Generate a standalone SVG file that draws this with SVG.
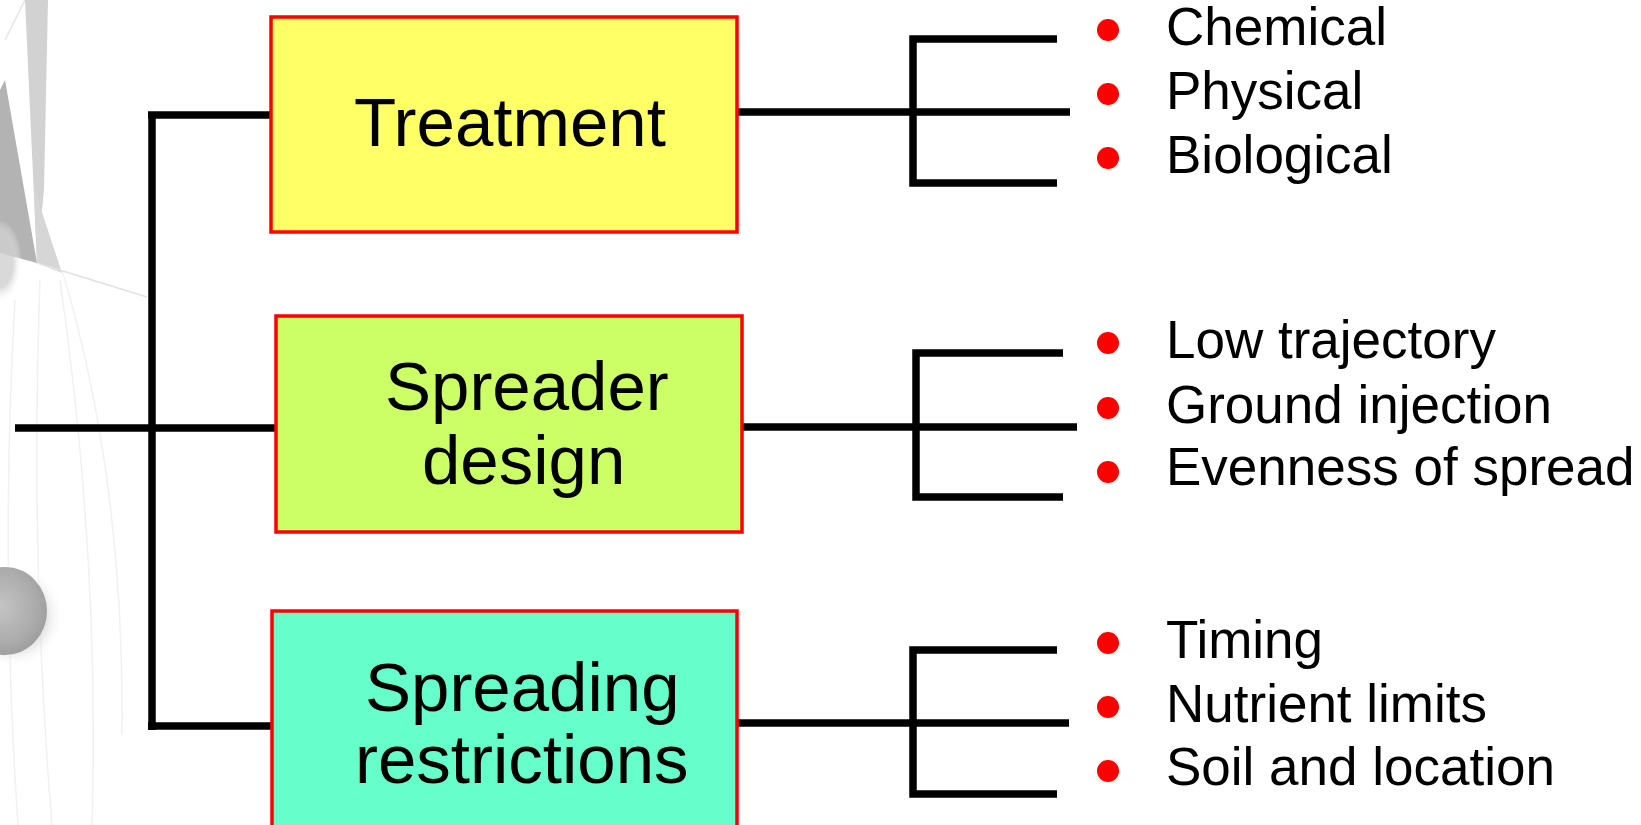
<svg xmlns="http://www.w3.org/2000/svg" width="1641" height="825" viewBox="0 0 1641 825">
  <defs>
    <radialGradient id="sph" cx="0.45" cy="0.45" r="0.6">
      <stop offset="0" stop-color="#c4c4c4"/>
      <stop offset="0.7" stop-color="#ababab"/>
      <stop offset="1" stop-color="#9c9c9c"/>
    </radialGradient>
    <radialGradient id="shadow" cx="0.5" cy="0.5" r="0.5">
      <stop offset="0.6" stop-color="#d0d0d0" stop-opacity="0.8"/>
      <stop offset="1" stop-color="#ffffff" stop-opacity="0"/>
    </radialGradient>
  </defs>
  <style>
    .box { stroke: #ff0000; stroke-width: 3.5; }
    .lbl { font-family: "Liberation Sans", Arial, sans-serif; font-size: 69px; fill: #000; }
    .item { font-family: "Liberation Sans", Arial, sans-serif; font-size: 53px; fill: #000; }
    .bullet { fill: #ff0000; }
    .conn { fill: none; stroke: #000; stroke-width: 7.5; stroke-linecap: butt; stroke-linejoin: miter; }
    .faint { fill: none; stroke: #f1f1f1; stroke-width: 1.5; }
  </style>
  <rect width="1641" height="825" fill="#ffffff"/>

  <g id="background">
    <path class="faint" d="M15 300 Q 0 560 18 825"/>
    <path class="faint" d="M40 280 Q 30 560 52 825"/>
    <path class="faint" d="M60 280 Q 100 560 92 825"/>
    <path class="faint" d="M62 270 Q 125 480 122 735"/>
    <path d="M5 40 L 25 0" stroke="#e6e6e6" stroke-width="1.5" fill="none"/>
    <polygon points="25,0 48,0 44,190 37,263" fill="#d2d2d2"/>
    <polygon points="34,188 62,273 37,263" fill="#d6d6d6"/>
    <polygon points="5,80 37,263 0,253 0,90" fill="#b3b3b3"/>
    <ellipse cx="0" cy="262" rx="22" ry="42" fill="url(#shadow)"/>
    <path d="M37 263 L 147 297" stroke="#e2e2e2" stroke-width="1.5" fill="none"/>
    <ellipse cx="12" cy="616" rx="52" ry="52" fill="url(#shadow)"/>
    <ellipse cx="5" cy="611" rx="42" ry="44" fill="url(#sph)"/>
  </g>

  <g id="connectors">
    <path class="conn" d="M15 428 H152"/>
    <path class="conn" d="M152 112 V730"/>
    <path class="conn" d="M148 115 H271"/>
    <path class="conn" d="M152 428 H276"/>
    <path class="conn" d="M148 726 H272"/>

    <path class="conn" d="M737 112 H1070"/>
    <path class="conn" d="M1057 39 H913 V183 H1057"/>

    <path class="conn" d="M742 427 H1077"/>
    <path class="conn" d="M1063 353 H916 V497 H1063"/>

    <path class="conn" d="M737 723 H1069"/>
    <path class="conn" d="M1057 650 H913 V794 H1057"/>
  </g>

  <g id="treatment">
    <rect class="box" x="271" y="17" width="466" height="215" fill="#ffff66"/>
    <text class="lbl" x="354" y="146">Treatment</text>
  </g>
  <g id="spreader-design">
    <rect class="box" x="276" y="316" width="466" height="216" fill="#ccff66"/>
    <text class="lbl" x="385" y="410">Spreader</text>
    <text class="lbl" x="422" y="484">design</text>
  </g>
  <g id="spreading-restrictions">
    <rect class="box" x="272" y="611" width="465" height="230" fill="#66ffcc"/>
    <text class="lbl" x="365" y="711">Spreading</text>
    <text class="lbl" x="355" y="783">restrictions</text>
  </g>

  <g id="treatment-items">
    <circle class="bullet" cx="1108" cy="30" r="11"/>
    <circle class="bullet" cx="1108" cy="94" r="11"/>
    <circle class="bullet" cx="1108" cy="158" r="11"/>
    <text class="item" x="1166" y="45">Chemical</text>
    <text class="item" x="1166" y="109">Physical</text>
    <text class="item" x="1166" y="173">Biological</text>
  </g>
  <g id="spreader-items">
    <circle class="bullet" cx="1108" cy="343" r="11"/>
    <circle class="bullet" cx="1108" cy="408" r="11"/>
    <circle class="bullet" cx="1108" cy="472" r="11"/>
    <text class="item" x="1166" y="358">Low trajectory</text>
    <text class="item" x="1166" y="423">Ground injection</text>
    <text class="item" x="1166" y="485">Evenness of spread</text>
  </g>
  <g id="restriction-items">
    <circle class="bullet" cx="1108" cy="643" r="11"/>
    <circle class="bullet" cx="1108" cy="707" r="11"/>
    <circle class="bullet" cx="1108" cy="771" r="11"/>
    <text class="item" x="1166" y="658">Timing</text>
    <text class="item" x="1166" y="722">Nutrient limits</text>
    <text class="item" x="1166" y="785">Soil and location</text>
  </g>
</svg>
